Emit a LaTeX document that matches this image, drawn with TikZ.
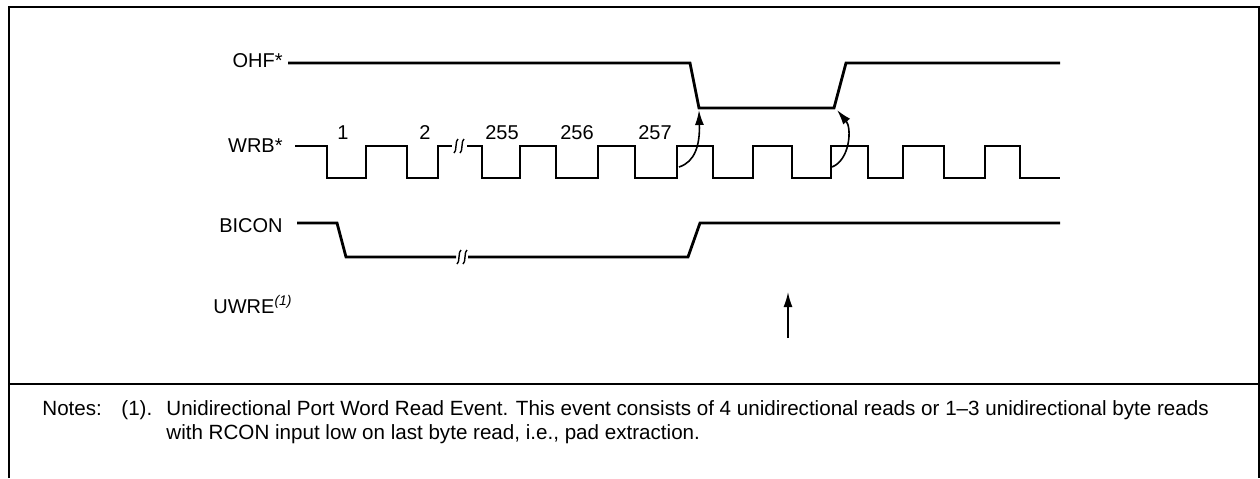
\documentclass[tikz,border=0pt]{standalone}
\usepackage{fontspec}
\setmainfont{Liberation Sans}
\newfontfamily\notesfont[Ligatures=TeX]{Liberation Sans}
\usetikzlibrary{arrows.meta,positioning}

\tikzset{
  sig/.style={line width=1.4pt},
  brk/.style={line width=0.7pt},
  cause/.style={->,line width=0.8pt},
  lbl/.style={anchor=base east,inner sep=0pt,font=\fontsize{10}{12}\selectfont},
  num/.style={anchor=base,inner sep=0pt,font=\fontsize{10}{12}\selectfont},
  note/.style={anchor=base west,inner sep=0pt,font=\notesfont\fontsize{10.3}{12}\selectfont},
}
% small break mark on a waveform
\newcommand{\brkmark}[2]{\draw[brk] (#1-2,#2+7) .. controls (#1+1,#2+6) and (#1-1,#2-6) .. (#1+2,#2-7);}

\begin{document}
\begin{tikzpicture}[x=0.5pt,y=-0.5pt,>={Latex[length=7.5pt,width=4.5pt]},line join=miter]
\useasboundingbox (0,0) rectangle (1260,478);
%% frame
\draw[line width=0.9pt] (9,478) -- (9,7) -- (1259,7) -- (1259,478);
\draw[line width=0.9pt] (9,384) -- (1259,384);
%% signal names
\node[lbl] (ohf) at (283,67) {OHF*};
\node[lbl] (wrb) at (283,152) {WRB*};
\node[lbl] (bicon) at (283,232) {BICON};
\node[anchor=base west,inner sep=0pt,font=\fontsize{10}{12}\selectfont] (uwre) at (213,313) {UWRE\textsuperscript{\itshape(1)}};
%% cycle numbers
\node[num] (n1) at (343,139) {1};
\node[num] (n2) at (425,139) {2};
\node[num] (n255) at (502,139) {255};
\node[num] (n256) at (577,139) {256};
\node[num] (n257) at (655,139) {257};
%% OHF*
\draw[sig] (288,63) -- (690,63) -- (699,108) -- (834,108) -- (846,63) -- (1060,63);
%% WRB*
\draw[sig] (295,146) -- (327,146) -- (327,178) -- (366,178) -- (366,146) -- (407,146)
  -- (407,178) -- (438,178) -- (438,146) -- (452,146);
\brkmark{456}{146}
\brkmark{462}{146}
\draw[sig] (467,146) -- (482,146) -- (482,178) -- (520,178) -- (520,146) -- (556,146)
  -- (556,178) -- (598,178) -- (598,146) -- (635,146) -- (635,178) -- (677,178)
  -- (677,146) -- (713,146) -- (713,178) -- (753,178) -- (753,146) -- (792,146)
  -- (792,178) -- (831,178) -- (831,146) -- (868,146) -- (868,178) -- (903,178)
  -- (903,146) -- (944,146) -- (944,178) -- (985,178) -- (985,146) -- (1020,146)
  -- (1020,178) -- (1060,178);
%% BICON
\draw[sig] (297,223) -- (337,223) -- (346,257) -- (456,257);
\brkmark{459}{257}
\brkmark{465}{257}
\draw[sig] (468,257) -- (688,257) -- (700,223) -- (1060,223);
%% causal arrows
\coordinate (c1) at (679,167);
\coordinate (o1) at (699,110);
\coordinate (c2) at (832,167);
\coordinate (o2) at (837,110);
\draw[cause] (c1) .. controls (695,162) and (700,145) .. (o1);
\draw[cause] (c2) .. controls (850,160) and (852,128) .. (o2);
%% UWRE event
\coordinate (ev) at (788,338);
\coordinate (evtip) at (788,292);
\draw[cause] (ev) -- (evtip);
%% notes
\node[note] (notes) at (42,415) {Notes:};
\node[note] (ref1) at (121,415) {(1).};
\node[note] (line1) at (166,415) {Unidirectional Port Word Read Event. This event consists of 4 unidirectional reads or 1--3 unidirectional byte reads};
\node[note] (line2) at (166,439) {with RCON input low on last byte read, i.e., pad extraction.};
\end{tikzpicture}
\end{document}
